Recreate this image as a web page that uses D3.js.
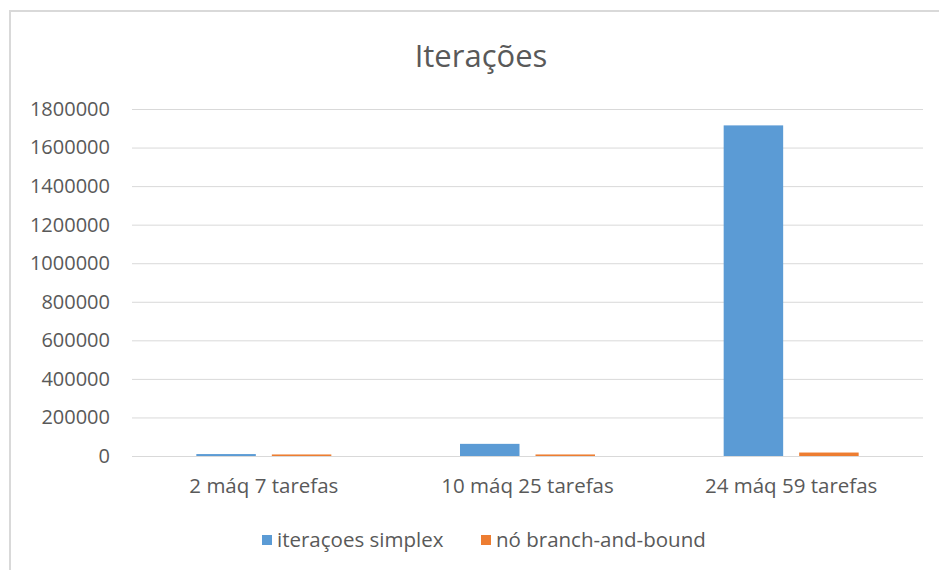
<!DOCTYPE html>
<html>
<head>
<meta charset="utf-8">
<script src="https://cdn.jsdelivr.net/npm/d3@7"></script>
<style>
  body { margin: 0; background: #fff; }
  svg text { font-family: "Open Sans", "Liberation Sans", sans-serif; fill: #595959; }
</style>
</head>
<body>
<svg id="chart" width="939" height="570"></svg>
<script>
// data
const categories = ["2 máq 7 tarefas", "10 máq 25 tarefas", "24 máq 59 tarefas"]
const seriesNames = ["iteraçoes simplex", "nó branch-and-bound"]
const simplex = [10000, 63000, 1715000]
const branchBound = [8000, 8000, 18000]
const yTicks = [0, 200000, 400000, 600000, 800000, 1000000, 1200000, 1400000, 1600000, 1800000]
const colors = ["#5b9bd5", "#ed7d31"]

const svg = d3.select("#chart")

// chart area border (only top and left visible)
svg.append("path")
  .attr("d", "M10,570 L10,11 L939,11")
  .attr("fill", "none")
  .attr("stroke", "#d9d9d9")
  .attr("stroke-width", 2)

svg.append("text")
  .attr("x", 481)
  .attr("y", 67)
  .attr("text-anchor", "middle")
  .style("font-size", "31px")
  .text("Iterações")

var plotLeft = 132, plotRight = 923, plotTop = 109, plotBottom = 456

var y = d3.scaleLinear()
  .domain([0, 1800000])
  .range([plotBottom, plotTop])

var x0 = d3.scaleBand()
  .domain(categories)
  .range([plotLeft, plotRight])
  .paddingInner(0.488)
  .paddingOuter(0.244)

var x1 = d3.scaleBand()
  .domain(seriesNames)
  .range([0, x0.bandwidth()])
  .paddingInner(0.212)

// gridlines
var yAxis = svg.append("g")
  .attr("transform", "translate(" + plotLeft + ",0)")
  .call(d3.axisLeft(y).tickValues(yTicks).tickSize(-(plotRight - plotLeft)).tickPadding(22).tickFormat(d3.format("d")))
yAxis.select(".domain").remove()
yAxis.selectAll("line").attr("stroke", "#d9d9d9").attr("stroke-width", 1)
yAxis.selectAll("text")
  .style("font-size", "20px")
  .attr("fill", "#595959")
  .attr("font-family", null)

var rows = categories.map(function(c, i) {
  return { cat: c, vals: [simplex[i], branchBound[i]] }
})

var groups = svg.selectAll("g.grp")
  .data(rows)
  .enter()
  .append("g")
    .attr("class", "grp")
    .attr("transform", function(d) { return "translate(" + x0(d.cat) + ",0)" })

groups.selectAll("rect")
  .data(function(d) { return d.vals.map(function(v, i) { return { name: seriesNames[i], v: v, i: i } }) })
  .enter()
  .append("rect")
    .attr("x", function(d) { return x1(d.name) })
    .attr("y", function(d) { return y(d.v) })
    .attr("width", x1.bandwidth())
    .attr("height", function(d) { return plotBottom - y(d.v) })
    .attr("fill", function(d) { return colors[d.i] })

// baseline
svg.append("line")
  .attr("x1", plotLeft).attr("x2", plotRight)
  .attr("y1", plotBottom + 0.5).attr("y2", plotBottom + 0.5)
  .attr("stroke", "#d9d9d9")

var xAxis = svg.append("g")
  .attr("transform", "translate(0," + plotBottom + ")")
  .call(d3.axisBottom(x0).tickSize(0).tickPadding(22))
xAxis.select(".domain").remove()
xAxis.selectAll("text")
  .style("font-size", "20.5px")
  .attr("fill", "#595959")
  .attr("font-family", null)

// legend
var legendX = [262, 481]
var legend = svg.selectAll("g.leg")
  .data(seriesNames)
  .enter()
  .append("g")
    .attr("class", "leg")
    .attr("transform", function(d, i) { return "translate(" + legendX[i] + ",535)" })
legend.append("rect")
  .attr("width", 10).attr("height", 10)
  .attr("fill", function(d, i) { return colors[i] })
legend.append("text")
  .attr("x", 15)
  .attr("y", 12)
  .style("font-size", "20.5px")
  .text(function(d) { return d })
</script>
</body>
</html>
